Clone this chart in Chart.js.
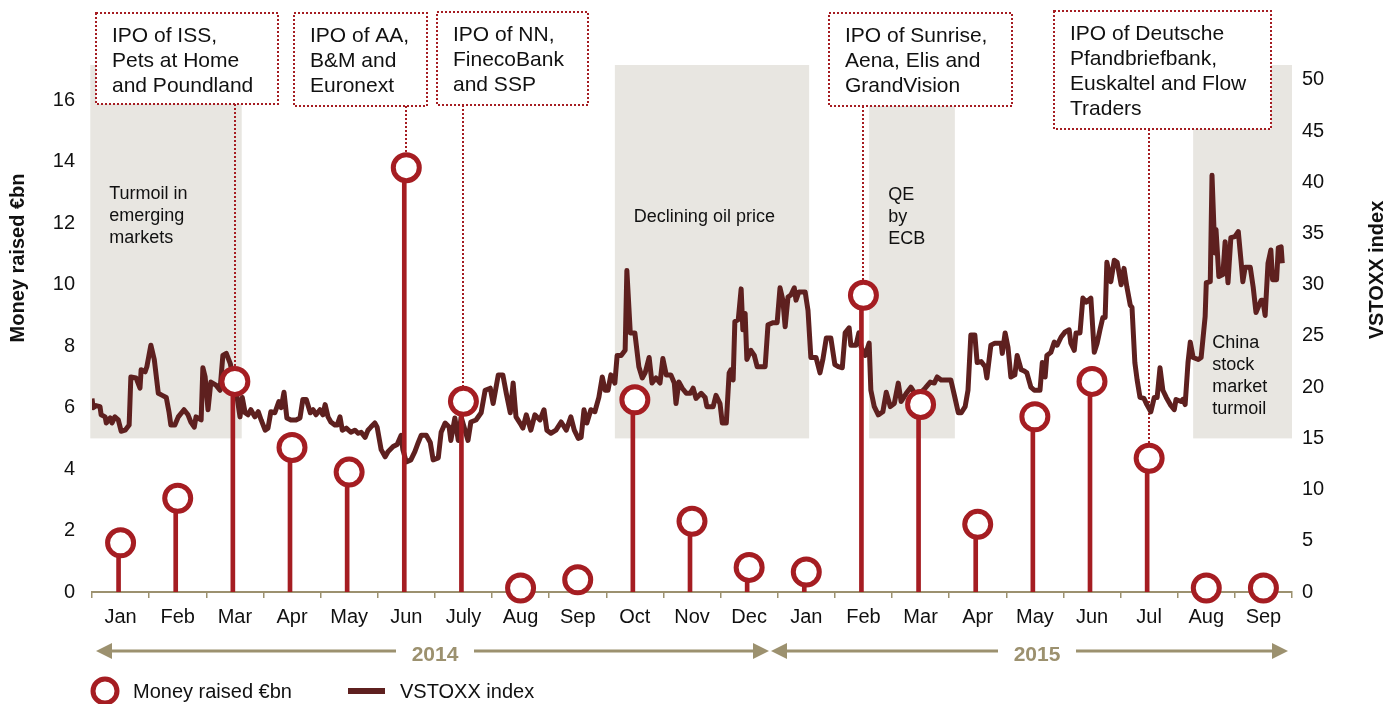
<!DOCTYPE html>
<html>
<head>
<meta charset="utf-8">
<script src="https://cdn.jsdelivr.net/npm/chart.js@4.4.1/dist/chart.umd.min.js"></script>
<style>
  html, body { margin: 0; padding: 0; background: #fff; }
  #wrap { width: 1398px; height: 704px; position: relative; }
</style>
</head>
<body>
<div id="wrap"><canvas id="ipo-chart"></canvas></div>
<script>
// months Jan 2014 .. Sep 2015
const months = ['Jan', 'Feb', 'Mar', 'Apr', 'May', 'Jun', 'July', 'Aug', 'Sep', 'Oct', 'Nov', 'Dec',
    'Jan', 'Feb', 'Mar', 'Apr', 'May', 'Jun', 'Jul', 'Aug', 'Sep']

// money raised per month, EUR bn
const moneyRaised = [1.6, 3.05, 6.85, 4.7, 3.9, 13.8, 6.2, 0.13, 0.4, 6.25, 2.3, 0.8,
    0.65, 9.65, 6.1, 2.2, 5.7, 6.85, 4.35, 0.13, 0.13]

const moneyTicks = [0, 2, 4, 6, 8, 10, 12, 14, 16]
const vstoxxTicks = [0, 5, 10, 15, 20, 25, 30, 35, 40, 45, 50]

// VSTOXX: position in months since 1 Jan 2014, index level
const vstoxxMonth = [
    0.00, 0.02, 0.07, 0.14, 0.16, 0.23, 0.25, 0.32, 0.35, 0.40, 0.46, 0.51, 0.58, 0.65, 0.68, 0.77, 0.84, 0.86, 0.93, 0.96,
    1.03, 1.09, 1.16, 1.23, 1.30, 1.35, 1.38, 1.45, 1.51, 1.61, 1.68, 1.73, 1.79, 1.82, 1.91, 1.94, 1.98,
    2.03, 2.08, 2.17, 2.24, 2.29, 2.35, 2.42, 2.52, 2.59, 2.63, 2.68, 2.73, 2.78, 2.85, 2.91, 2.96,
    3.03, 3.08, 3.13, 3.20, 3.27, 3.31, 3.36, 3.41, 3.48, 3.57, 3.64, 3.69, 3.75, 3.82, 3.87, 3.92, 3.99,
    4.04, 4.08, 4.13, 4.18, 4.25, 4.29, 4.34, 4.38, 4.45, 4.53, 4.60, 4.66, 4.71, 4.78, 4.83, 4.88, 4.95, 4.99,
    5.06, 5.13, 5.18, 5.27, 5.34, 5.41, 5.44, 5.50, 5.58, 5.65, 5.71, 5.76, 5.85, 5.92, 5.97,
    6.06, 6.11, 6.18, 6.25, 6.28, 6.35, 6.41, 6.46, 6.58, 6.63, 6.72, 6.81, 6.88, 6.97,
    7.02, 7.11, 7.19, 7.25, 7.32, 7.37, 7.42, 7.49, 7.54, 7.60, 7.68, 7.75, 7.84, 7.91, 7.96,
    8.03, 8.12, 8.21, 8.30, 8.38, 8.44, 8.51, 8.56, 8.61, 8.66, 8.73, 8.80, 8.87, 8.93, 8.98,
    9.03, 9.08, 9.15, 9.19, 9.26, 9.33, 9.36, 9.42, 9.50, 9.57, 9.63, 9.68, 9.75, 9.80, 9.87, 9.94, 9.99,
    10.05, 10.13, 10.19, 10.22, 10.27, 10.33, 10.40, 10.47, 10.52, 10.57, 10.66, 10.73, 10.76, 10.87, 10.92, 10.99,
    11.03, 11.10, 11.15, 11.18, 11.22, 11.25, 11.31, 11.36, 11.39, 11.43, 11.46, 11.53, 11.59, 11.64, 11.78, 11.83, 11.92, 11.99,
    12.04, 12.09, 12.13, 12.18, 12.23, 12.29, 12.32, 12.37, 12.48, 12.53, 12.58, 12.67, 12.74, 12.79, 12.85, 12.93,
    13.00, 13.06, 13.13, 13.18, 13.25, 13.28, 13.37, 13.42, 13.46, 13.53, 13.60, 13.63, 13.69, 13.76, 13.84, 13.90, 13.97,
    14.04, 14.11, 14.16, 14.25, 14.33, 14.40, 14.51, 14.58, 14.67, 14.74, 14.79, 14.86, 14.95,
    15.03, 15.10, 15.16, 15.21, 15.28, 15.33, 15.38, 15.45, 15.49, 15.56, 15.63, 15.66, 15.73, 15.80, 15.91, 15.93, 15.98,
    16.03, 16.08, 16.15, 16.19, 16.26, 16.31, 16.36, 16.43, 16.49, 16.59, 16.63, 16.68, 16.71, 16.78, 16.84, 16.89, 16.96,
    17.03, 17.10, 17.13, 17.19, 17.22, 17.29, 17.34, 17.40, 17.48, 17.54, 17.59, 17.64, 17.69, 17.73, 17.76, 17.83, 17.89, 17.94,
    18.01, 18.06, 18.11, 18.17, 18.20, 18.25, 18.29, 18.34, 18.41, 18.46, 18.53, 18.59, 18.64, 18.69, 18.74, 18.80, 18.87, 18.94, 18.97,
    19.06, 19.09, 19.13, 19.18, 19.22, 19.27, 19.36, 19.41, 19.48, 19.50, 19.57, 19.60, 19.65, 19.67, 19.72, 19.79, 19.83, 19.88, 19.93,
    20.00, 20.06, 20.11, 20.14, 20.18, 20.27, 20.32, 20.37, 20.46, 20.49, 20.53, 20.58, 20.63, 20.66, 20.73, 20.76, 20.81, 20.83
]
const vstoxxValue = [
    18.9, 18.0, 18.2, 18.1, 17.3, 17.1, 16.5, 17.0, 16.5, 17.1, 16.8, 15.7, 15.8, 16.3, 21.0, 20.9, 19.9, 21.7, 21.5, 22.0,
    24.1, 22.7, 19.4, 19.2, 19.0, 17.5, 16.3, 16.3, 17.1, 17.8, 17.3, 16.6, 16.1, 17.1, 16.8, 21.9, 21.0,
    17.8, 20.5, 20.2, 19.7, 23.1, 23.3, 22.3, 19.7, 17.1, 19.0, 17.5, 17.3, 17.8, 17.1, 17.6, 16.8,
    15.8, 16.0, 17.6, 17.5, 18.6, 18.0, 19.5, 17.0, 16.8, 16.8, 17.0, 18.8, 18.8, 17.5, 17.8, 17.3, 17.8,
    17.3, 18.3, 17.1, 16.6, 16.3, 16.3, 17.1, 15.8, 16.0, 15.6, 15.8, 15.5, 15.6, 15.1, 15.8, 16.1, 16.5, 16.1,
    13.9, 13.2, 13.7, 14.2, 14.4, 15.3, 13.9, 12.7, 12.9, 13.7, 14.6, 15.3, 15.3, 14.6, 12.9,
    13.1, 15.6, 16.5, 16.1, 14.8, 17.0, 14.8, 17.1, 14.8, 16.6, 16.8, 17.5, 19.7, 19.9,
    18.4, 21.2, 21.2, 19.4, 17.5, 20.4, 17.1, 16.5, 16.0, 17.3, 15.8, 17.3, 16.8, 17.8, 15.8,
    15.5, 15.8, 16.6, 15.8, 17.1, 15.8, 15.0, 15.1, 17.8, 16.5, 17.8, 17.6, 19.0, 21.0, 19.7,
    19.7, 21.2, 20.4, 23.1, 23.1, 23.6, 31.4, 25.3, 25.3, 22.0, 20.9, 21.4, 22.9, 20.4, 20.9, 20.4, 22.8,
    21.2, 21.2, 20.4, 18.4, 20.5, 19.9, 19.4, 19.4, 19.9, 18.9, 19.4, 19.0, 18.1, 18.1, 19.2, 18.4,
    16.5, 16.5, 21.4, 21.7, 20.7, 26.4, 26.6, 29.6, 25.6, 27.2, 22.7, 23.6, 23.1, 22.0, 22.0, 26.1, 26.3, 26.3,
    29.7, 28.5, 25.9, 28.8, 29.0, 29.7, 28.5, 29.3, 29.3, 27.5, 22.9, 22.9, 21.4, 22.7, 24.8, 24.8,
    22.2, 22.0, 21.9, 25.3, 25.8, 24.1, 24.1, 25.3, 23.9, 23.1, 24.3, 19.7, 18.1, 17.3, 17.6, 19.5, 18.1,
    18.4, 20.4, 18.6, 19.4, 20.0, 19.4, 19.5, 19.9, 20.5, 20.4, 21.0, 20.7, 20.7,
    20.7, 19.0, 17.5, 17.5, 18.1, 19.7, 25.1, 25.1, 22.4, 22.5, 22.0, 20.9, 24.1, 24.3, 24.3, 23.3, 25.3,
    23.9, 21.0, 21.2, 23.1, 21.7, 21.6, 21.4, 20.0, 19.7, 19.7, 22.4, 21.0, 23.1, 23.4, 24.4, 24.1, 24.9,
    25.4, 25.6, 24.3, 23.6, 25.3, 25.3, 28.7, 28.3, 28.7, 23.4, 24.3, 25.6, 26.8, 26.8, 32.2, 30.3, 32.4, 32.2,
    30.0, 31.6, 29.8, 28.0, 27.8, 22.4, 20.7, 19.0, 18.9, 18.3, 17.6, 19.0, 19.0, 21.9, 19.7, 19.0, 18.3, 17.8, 18.8,
    18.6, 18.8, 18.3, 22.4, 24.4, 22.9, 22.7, 22.9, 26.9, 30.2, 30.3, 40.7, 33.1, 35.4, 30.8, 31.0, 34.2, 30.2, 34.6,
    34.7, 35.2, 32.2, 30.3, 31.7, 31.7, 29.8, 27.3, 28.5, 28.5, 27.0, 32.1, 33.4, 30.5, 30.5, 33.6, 33.7, 32.1
]

// shaded periods (months since 1 Jan 2014) and their notes
const periodStart = [-0.03, 9.15, 13.6, 19.27]
const periodEnd = [2.62, 12.55, 15.1, 21]
const periodText = [['Turmoil in', 'emerging', 'markets'], ['Declining oil price'], ['QE', 'by', 'ECB'],
    ['China', 'stock', 'market', 'turmoil']]
const periodTextY = [194, 217, 195, 343]

// IPO call-outs: month index they point at
const calloutMonth = [2, 5, 6, 13, 18]
const calloutText = [
    ['IPO of ISS,', 'Pets at Home', 'and Poundland'],
    ['IPO of AA,', 'B&M and', 'Euronext'],
    ['IPO of NN,', 'FinecoBank', 'and SSP'],
    ['IPO of Sunrise,', 'Aena, Elis and', 'GrandVision'],
    ['IPO of Deutsche', 'Pfandbriefbank,', 'Euskaltel and Flow', 'Traders']
]
const calloutBox = [[96, 13, 182, 91], [294, 13, 133, 93], [437, 12, 151, 93], [829, 13, 183, 93], [1054, 11, 217, 118]]

const red = '#a51d22'
const maroon = '#5e201f'
const tan = '#9c916f'
const shade = '#e8e6e1'
const font = '"Liberation Sans", Arial, sans-serif'

Chart.defaults.font.family = font
Chart.defaults.color = '#111'

const decorations = {
    id: 'decorations',
    beforeDatasetsDraw(chart) {
        const {ctx, chartArea, scales: {x, x2, y, y2}} = chart
        ctx.save()
        periodStart.forEach((s, i) => {
            const left = x2.getPixelForValue(s)
            const right = x2.getPixelForValue(periodEnd[i])
            const bottom = y2.getPixelForValue(15)
            ctx.fillStyle = shade
            ctx.fillRect(left, chartArea.top, right - left, bottom - chartArea.top)
            ctx.fillStyle = '#111'
            ctx.font = '18px ' + font
            ctx.textBaseline = 'middle'
            periodText[i].forEach((line, j) => ctx.fillText(line, left + 19, periodTextY[i] + j * 22))
        })
        // dotted leaders
        ctx.strokeStyle = red
        ctx.lineWidth = 2
        ctx.setLineDash([2, 2])
        calloutMonth.forEach((m, i) => {
            const b = calloutBox[i]
            const px = Math.round(x.getPixelForValue(m))
            ctx.beginPath()
            ctx.moveTo(px, b[1] + b[3])
            ctx.lineTo(px, y.getPixelForValue(moneyRaised[m]))
            ctx.stroke()
        })
        ctx.restore()
    },
    afterDatasetsDraw(chart) {
        const {ctx} = chart
        ctx.save()
        calloutBox.forEach((b, i) => {
            ctx.fillStyle = '#fff'
            ctx.fillRect(b[0], b[1], b[2], b[3])
            ctx.strokeStyle = red
            ctx.lineWidth = 2
            ctx.setLineDash([2, 2])
            ctx.strokeRect(b[0], b[1], b[2], b[3])
            ctx.fillStyle = '#111'
            ctx.font = '21px ' + font
            ctx.textBaseline = 'alphabetic'
            calloutText[i].forEach((line, j) => ctx.fillText(line, b[0] + 16, b[1] + 29 + j * 25))
        })
        ctx.restore()
    },
    afterDraw(chart) {
        const {ctx} = chart
        ctx.save()
        // axis titles
        ctx.font = 'bold 20px ' + font
        ctx.fillStyle = '#111'
        ctx.textAlign = 'center'
        ctx.textBaseline = 'middle'
        ctx.translate(18, 258)
        ctx.rotate(-Math.PI / 2)
        ctx.fillText('Money raised €bn', 0, 0)
        ctx.setTransform(1, 0, 0, 1, 0, 0)
        ctx.translate(1377, 270)
        ctx.rotate(-Math.PI / 2)
        ctx.fillText('VSTOXX index', 0, 0)
        ctx.setTransform(1, 0, 0, 1, 0, 0)

        // year arrows
        const arrow = (x1, x2, mid, label) => {
            const ay = 651
            ctx.strokeStyle = tan
            ctx.fillStyle = tan
            ctx.lineWidth = 3
            ctx.beginPath()
            ctx.moveTo(x1 + 10, ay)
            ctx.lineTo(mid - 39, ay)
            ctx.moveTo(mid + 39, ay)
            ctx.lineTo(x2 - 10, ay)
            ctx.stroke()
            ctx.beginPath()
            ctx.moveTo(x1, ay)
            ctx.lineTo(x1 + 16, ay - 8)
            ctx.lineTo(x1 + 16, ay + 8)
            ctx.closePath()
            ctx.moveTo(x2, ay)
            ctx.lineTo(x2 - 16, ay - 8)
            ctx.lineTo(x2 - 16, ay + 8)
            ctx.closePath()
            ctx.fill()
            ctx.font = 'bold 21px ' + font
            ctx.textAlign = 'center'
            ctx.fillText(label, mid, ay + 4)
        }
        arrow(96, 769, 435, '2014')
        arrow(771, 1288, 1037, '2015')

        // legend
        const ly = 691
        ctx.beginPath()
        ctx.arc(105, ly, 12, 0, Math.PI * 2)
        ctx.fillStyle = '#fff'
        ctx.fill()
        ctx.strokeStyle = red
        ctx.lineWidth = 5
        ctx.stroke()
        ctx.strokeStyle = maroon
        ctx.lineWidth = 6
        ctx.beginPath()
        ctx.moveTo(348, ly)
        ctx.lineTo(385, ly)
        ctx.stroke()
        ctx.fillStyle = '#111'
        ctx.font = '20px ' + font
        ctx.textAlign = 'left'
        ctx.fillText('Money raised €bn', 133, ly + 1)
        ctx.fillText('VSTOXX index', 400, ly + 1)
        ctx.restore()
    }
}

new Chart(document.getElementById('ipo-chart'), {
    type: 'bar',
    data: {
        labels: months,
        datasets: [{
            type: 'line',
            label: 'Money raised €bn',
            data: moneyRaised,
            xAxisID: 'x',
            yAxisID: 'y',
            showLine: false,
            pointRadius: 13,
            pointHoverRadius: 13,
            pointBorderWidth: 5,
            pointBackgroundColor: '#fff',
            pointBorderColor: red,
            clip: false,
            order: 0
        }, {
            type: 'bar',
            label: 'stems',
            data: moneyRaised,
            xAxisID: 'x',
            yAxisID: 'y',
            backgroundColor: red,
            barThickness: 4,
            order: 1
        }, {
            type: 'line',
            label: 'VSTOXX index',
            data: vstoxxMonth.map((m, i) => ({x: m, y: vstoxxValue[i]})),
            xAxisID: 'x2',
            yAxisID: 'y2',
            borderColor: maroon,
            borderWidth: 5,
            borderJoinStyle: 'round',
            pointRadius: 0,
            tension: 0,
            order: 2
        }]
    },
    options: {
        responsive: true,
        maintainAspectRatio: false,
        animation: false,
        events: [],
        layout: {padding: {top: 65, left: 0, right: 0, bottom: 0}},
        plugins: {
            legend: {display: false},
            tooltip: {enabled: false}
        },
        scales: {
            x: {
                type: 'category',
                offset: true,
                grid: {offset: true, drawOnChartArea: false, drawTicks: true, tickLength: 6, color: tan, lineWidth: 1.5},
                border: {color: tan, width: 2},
                ticks: {font: {size: 20}, color: '#111', padding: 7, maxRotation: 0, autoSkip: false},
                afterFit: s => { s.height = 112 }
            },
            x2: {
                type: 'linear',
                min: 0,
                max: 21,
                offset: false,
                grid: {offset: false},
                display: false
            },
            y: {
                position: 'left',
                min: 0,
                max: 17.14,
                grid: {display: false, drawTicks: false},
                border: {display: false},
                ticks: {font: {size: 20}, color: '#111', padding: 17},
                afterBuildTicks: s => { s.ticks = moneyTicks.map(v => ({value: v})) },
                afterFit: s => { s.width = 92 }
            },
            y2: {
                position: 'right',
                min: 0,
                max: 51.46,
                grid: {display: false, drawTicks: false},
                border: {display: false},
                ticks: {font: {size: 20}, color: '#111', padding: 10},
                afterBuildTicks: s => { s.ticks = vstoxxTicks.map(v => ({value: v})) },
                afterFit: s => { s.width = 106 }
            }
        }
    },
    plugins: [decorations]
})
</script>
</body>
</html>
